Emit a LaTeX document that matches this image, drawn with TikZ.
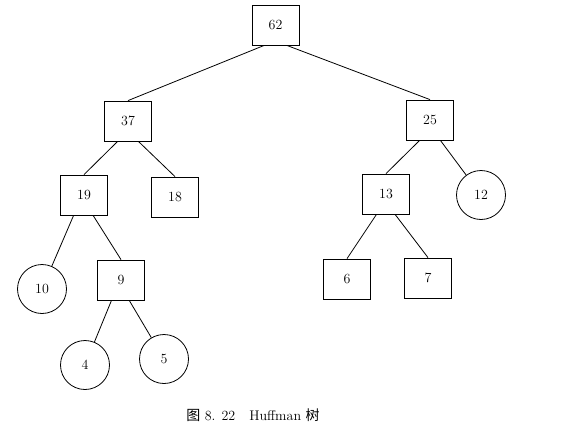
\documentclass[tikz,border=0pt]{standalone}
\usepackage{fontspec}
\newfontfamily\cjk{Noto Sans CJK SC}

\begin{document}
\begin{tikzpicture}[x=1pt, y=-1pt, line width=0.8pt,
        box/.style={draw, minimum width=47pt, minimum height=40pt, inner sep=0pt, font=\fontsize{14}{16}\selectfont},
        leaf/.style={draw, circle, minimum size=49pt, inner sep=0pt, font=\fontsize{14}{16}\selectfont}]
        \useasboundingbox (0,0) rectangle (575,428);

        \node[box] at (275.5,25) (n62) {62};
        \node[box] at (128,121) (n37) {37};
        \node[box] at (430,120) (n25) {25};
        \node[box] at (84,195) (n19) {19};
        \node[box] at (175,197) (n18) {18};
        \node[box] at (386,194) (n13) {13};
        \node[leaf] at (481,195) (n12) {12};
        \node[leaf] at (42,289) (n10) {10};
        \node[box] at (121,280) (n9) {9};
        \node[box] at (347,279) (n6) {6};
        \node[box] at (428,278) (n7) {7};
        \node[leaf] at (85,365) (n4) {4};
        \node[leaf] at (164,359) (n5) {5};

        \draw (n62.-119) -- (n37.north);
        \draw (n62.-61) -- (n25.north);
        \draw (n37.-117) -- (n19.north);
        \draw (n37.-63) -- (n18.north);
        \draw (n25.-117) -- (n13.north);
        \draw (n25.-63) -- (n12);
        \draw (n19.-117) -- (n10);
        \draw (n19.-66) -- (n9.north);
        \draw (n9.-115) -- (n4);
        \draw (n9.-68) -- (n5);
        \draw (n13.-115) -- (n6.north);
        \draw (n13.-66) -- (n7.north);

        \node[font=\fontsize{14}{16}\selectfont] at (253,415) (cap) {{\cjk 图} 8. 22\quad Huffman {\cjk 树}};
    \end{tikzpicture}
\end{document}
